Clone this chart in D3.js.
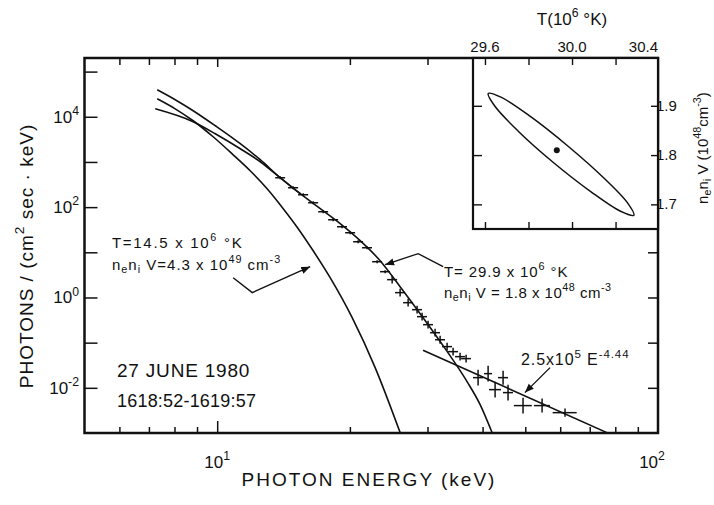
<!DOCTYPE html>
<html>
<head>
<meta charset="utf-8">
<script src="https://cdn.jsdelivr.net/npm/d3@7"></script>
<style>
body { margin: 0; background: #fff; }
text { font-family: "Liberation Sans", Arial, sans-serif; fill: #111; }
</style>
</head>
<body>
<div id="chart"></div>
<script>
// measured spectrum (keV, photons/(cm2 s keV)) with bin half widths and error factors
const energies = [13.90, 14.87, 15.67, 16.51, 17.40, 18.33, 19.20, 20.03, 20.88, 21.88, 23.06, 24.04,
    24.94, 26.00, 27.11, 28.41, 29.16, 30.09, 31.21, 32.04, 33.23, 34.29, 35.56, 36.70,
    39.07, 41.17, 44.52, 42.70, 45.69, 49.41, 54.58, 61.53];
const fluxes = [447, 268, 188, 125, 79.1, 52.6, 36.8, 27.2, 17.2, 12.6, 6.19, 3.72,
    2.48, 1.28, 0.767, 0.537, 0.376, 0.250, 0.166, 0.116, 0.0817, 0.0632, 0.0490, 0.0443,
    0.0168, 0.0206, 0.0168, 0.00912, 0.00783, 0.00404, 0.00404, 0.00282];
const energyHalfWidth = [0.36, 0.39, 0.41, 0.43, 0.45, 0.48, 0.50, 0.52, 0.54, 0.57, 0.60, 0.63,
    0.65, 0.68, 0.70, 0.74, 0.76, 0.78, 0.81, 0.83, 0.86, 0.89, 0.92, 0.95,
    1.02, 0.86, 1.16, 1.34, 1.19, 2.32, 2.28, 3.85];
const fluxErrFactor = [1.08, 1.08, 1.08, 1.08, 1.08, 1.08, 1.08, 1.08, 1.08, 1.08, 1.08, 1.08,
    1.22, 1.22, 1.22, 1.22, 1.22, 1.22, 1.22, 1.22, 1.22, 1.22, 1.22, 1.22,
    1.50, 1.50, 1.43, 1.50, 1.50, 1.50, 1.43, 1.23];

// fitted curves
const coolE = [7.31, 8.03, 8.82, 9.79, 10.87, 11.88, 12.98, 14.12, 15.27, 16.51, 18.04, 20.24, 22.82, 26.0];
const coolF = [25000, 15000, 8160, 3610, 1440, 638, 255, 92.3, 33.3, 10.8, 2.74, 0.357, 0.028, 0.00102];
const hotE = [7.235, 8.82, 9.90, 11.28, 12.52, 13.90, 15.43, 17.13, 19.01, 21.10, 23.42, 26.00, 28.87, 32.54, 36.89, 39.49, 42.03];
const hotF = [15000, 7750, 4210, 1960, 1010, 447, 198, 92.3, 43.0, 18.1, 6.52, 1.73, 0.438, 0.0859, 0.0137, 0.00425, 0.00102];
const totalE = [7.31, 8.03, 8.82, 9.90, 11.28, 12.52, 13.90, 15.43];
const totalF = [39500, 23800, 13600, 6320, 2530, 1120, 447, 198];
const powerE = [29.3, 76.6];
const powerF = [0.068, 0.00102];

// axis ticks
const xMinorTicks = [6, 7, 8, 9, 20, 30, 40, 50, 60, 70, 80, 90];
const yTicks = [1e-2, 1e-1, 1, 10, 100, 1e3, 1e4, 1e5];
const yLabels = [{v: 1e4, s: '10^{4}'}, {v: 100, s: '10^{2}'}, {v: 1, s: '10^{0}'}, {v: 1e-2, s: '10^{-2}'}];

// inset: confidence contour in (T, emission measure)
const contourT = [30.284, 30.223, 30.089, 29.917, 29.754, 29.644, 29.615, 29.676, 29.810, 29.982, 30.145, 30.255];
const contourN = [1.678, 1.686, 1.725, 1.784, 1.848, 1.900, 1.925, 1.917, 1.878, 1.818, 1.754, 1.703];
const bestT = 29.93, bestN = 1.81;
const insetXTicks = [29.6, 29.8, 30.0, 30.2];
const insetXLabels = ['29.6', '30.0', '30.4'];
const insetYTicks = [1.7, 1.8, 1.9];

const width = 714, height = 505;
const svg = d3.select('#chart').append('svg')
    .attr('width', width)
    .attr('height', height);

const mLeft = 84.5, mRight = 658, mTop = 58, mBottom = 433;
const x = d3.scaleLog().domain([5, 100]).range([mLeft, mRight]);
const y = d3.scaleLog().domain([0.001, 2e5]).range([mBottom, mTop]);

const insetLeft = 473, insetBottom = 229;
const xi = d3.scaleLinear().domain([29.545, 30.395]).range([insetLeft, mRight]);
const yi = d3.scaleLinear().domain([1.65, 1.997]).range([insetBottom, mTop]);

// text with ^{..} superscripts and _{..} subscripts
function rich(g, px, py, str, fs, anchor, spacing) {
    const t = g.append('text')
        .attr('x', px)
        .attr('y', py)
        .attr('text-anchor', anchor || 'start')
        .style('font-size', fs + 'px')
        .style('letter-spacing', (spacing || 0) + 'px');
    let shift = 0;
    str.split(/(\^\{[^}]*\}|_\{[^}]*\})/).forEach(function(p) {
        if (p === '') return;
        let target = 0, size = fs, txt = p;
        if (p[0] === '^' && p[1] === '{') { target = -fs * 0.45; size = fs * 0.72; txt = p.slice(2, -1); }
        if (p[0] === '_' && p[1] === '{') { target = fs * 0.22; size = fs * 0.72; txt = p.slice(2, -1); }
        t.append('tspan')
            .attr('dy', target - shift)
            .style('font-size', size + 'px')
            .text(txt);
        shift = target;
    });
    return t;
}

const defs = svg.append('defs');
defs.append('clipPath').attr('id', 'plot')
    .append('rect')
    .attr('x', mLeft).attr('y', mTop)
    .attr('width', mRight - mLeft).attr('height', mBottom - mTop);

defs.append('marker')
    .attr('id', 'arrow')
    .attr('viewBox', '0 0 10 10')
    .attr('refX', 10).attr('refY', 5)
    .attr('markerWidth', 9).attr('markerHeight', 9)
    .attr('markerUnits', 'userSpaceOnUse')
    .attr('orient', 'auto')
    .append('path')
    .attr('d', 'M0,1 L10,5 L0,9 Z')
    .attr('fill', '#111');

function tickAxis(parent, axis, pos, values, size, sw) {
    parent.append('g')
        .attr('transform', pos)
        .call(axis.tickValues(values).tickSize(size).tickSizeOuter(0).tickFormat(''))
        .call(g => g.select('.domain').remove())
        .selectAll('line')
        .attr('stroke', '#111')
        .attr('stroke-width', sw);
}

// main frame ticks
tickAxis(svg, d3.axisBottom(x), `translate(0,${mBottom})`, [10], -12, 1.5);
tickAxis(svg, d3.axisBottom(x), `translate(0,${mBottom})`, xMinorTicks, -6, 1.5);
tickAxis(svg, d3.axisTop(x), `translate(0,${mTop})`, [10], -9, 1.5);
tickAxis(svg, d3.axisTop(x), `translate(0,${mTop})`, xMinorTicks.filter(v => x(v) < insetLeft), -7, 1.5);
tickAxis(svg, d3.axisLeft(y), `translate(${mLeft},0)`, yTicks, -13, 1.5);
tickAxis(svg, d3.axisRight(y), `translate(${mRight},0)`, yTicks.filter(v => y(v) > insetBottom), -10, 1.5);

// curves
const line = d3.line()
    .x(d => x(d[0]))
    .y(d => y(d[1]))
    .curve(d3.curveMonotoneX);

const plot = svg.append('g').attr('clip-path', 'url(#plot)');
[[coolE, coolF], [hotE, hotF], [totalE, totalF], [powerE, powerF]].forEach(function(c) {
    plot.append('path')
        .attr('d', line(c[0].map((e, i) => [e, c[1][i]])))
        .attr('fill', 'none')
        .attr('stroke', '#111')
        .attr('stroke-width', 1.6);
});

// data points with error bars
const pts = plot.append('g')
    .attr('stroke', '#111')
    .attr('stroke-width', 1.5);
energies.forEach(function(e, i) {
    const f = fluxes[i];
    pts.append('line')
        .attr('x1', x(e - energyHalfWidth[i])).attr('x2', x(e + energyHalfWidth[i]))
        .attr('y1', y(f)).attr('y2', y(f));
    pts.append('line')
        .attr('x1', x(e)).attr('x2', x(e))
        .attr('y1', y(f / fluxErrFactor[i])).attr('y2', y(f * fluxErrFactor[i]));
});

// main frame
svg.append('rect')
    .attr('x', mLeft).attr('y', mTop)
    .attr('width', mRight - mLeft).attr('height', mBottom - mTop)
    .attr('fill', 'none')
    .attr('stroke', '#111')
    .attr('stroke-width', 2.5);

// tick labels
rich(svg, x(10), 468, '10^{1}', 17, 'middle');
rich(svg, x(100) - 6, 468, '10^{2}', 17, 'middle');
yLabels.forEach(function(d) {
    rich(svg, 79, y(d.v) + 6, d.s, 17, 'end');
});

// axis titles
rich(svg, 369, 486, 'PHOTON ENERGY (keV)', 19, 'middle', 2);
rich(svg, 0, 0, 'PHOTONS / (cm^{2} sec · keV)', 19, 'middle', 1)
    .attr('transform', 'translate(33,256) rotate(-90)');

// annotations
const leader = d3.line().x(d => x(d[0])).y(d => y(d[1]));
[[[10.87, 2.74], [12.01, 1.28], [16.25, 4.8]],
 [[32.54, 4.8], [28.57, 9.31], [24.04, 5.32]],
 [[56.9, 0.028], [49.9, 0.00783]]].forEach(function(p) {
    svg.append('path')
        .attr('d', leader(p))
        .attr('fill', 'none')
        .attr('stroke', '#111')
        .attr('stroke-width', 1.4)
        .attr('marker-end', 'url(#arrow)');
});

rich(svg, 112, 248, 'T=14.5 x 10^{6} °K', 15, 'start', 1.7);
rich(svg, 112, 270, 'n_{e}n_{i} V=4.3 x 10^{49} cm^{-3}', 15, 'start', 1.0);
rich(svg, 444, 277, 'T= 29.9 x 10^{6} °K', 15, 'start', 0.9);
rich(svg, 444, 298, 'n_{e}n_{i} V = 1.8 x 10^{48} cm^{-3}', 15, 'start', 0.5);
rich(svg, 521, 365, '2.5x10^{5} E^{-4.44}', 16, 'start', 0.9);
rich(svg, 117, 377, '27 JUNE 1980', 19, 'start', 0.8);
rich(svg, 117, 407, '1618:52-1619:57', 18, 'start', 0.2);

// inset
const inset = svg.append('g');
inset.append('rect')
    .attr('x', insetLeft).attr('y', mTop)
    .attr('width', mRight - insetLeft).attr('height', insetBottom - mTop)
    .attr('fill', '#fff')
    .attr('stroke', '#111')
    .attr('stroke-width', 2.2);

tickAxis(inset, d3.axisTop(xi), `translate(0,${mTop})`, insetXTicks, -7, 1.4);
tickAxis(inset, d3.axisBottom(xi), `translate(0,${insetBottom})`, insetXTicks, -7, 1.4);
tickAxis(inset, d3.axisLeft(yi), `translate(${insetLeft},0)`, insetYTicks, -9, 1.4);
tickAxis(inset, d3.axisRight(yi), `translate(${mRight},0)`, insetYTicks, -7, 1.4);

inset.append('path')
    .attr('d', d3.line()
        .x(d => xi(d[0]))
        .y(d => yi(d[1]))
        .curve(d3.curveCatmullRomClosed)(contourT.map((t, i) => [t, contourN[i]])))
    .attr('fill', 'none')
    .attr('stroke', '#111')
    .attr('stroke-width', 1.5);

inset.append('circle')
    .attr('cx', xi(bestT))
    .attr('cy', yi(bestN))
    .attr('r', 3)
    .attr('fill', '#111');

insetXLabels.forEach(function(s, i) {
    const last = i === insetXLabels.length - 1;
    rich(inset, last ? mRight : xi(+s), 52, s, 15, last ? 'end' : 'middle');
});
insetYTicks.forEach(function(v) {
    rich(inset, 656, yi(v) + 5, v.toFixed(1), 15);
});
rich(svg, 572, 25, 'T(10^{6} °K)', 17, 'middle');
rich(svg, 0, 0, 'n_{e}n_{i} V (10^{48}cm^{-3})', 15, 'middle')
    .attr('transform', 'translate(708,148) rotate(-90)');
</script>
</body>
</html>
